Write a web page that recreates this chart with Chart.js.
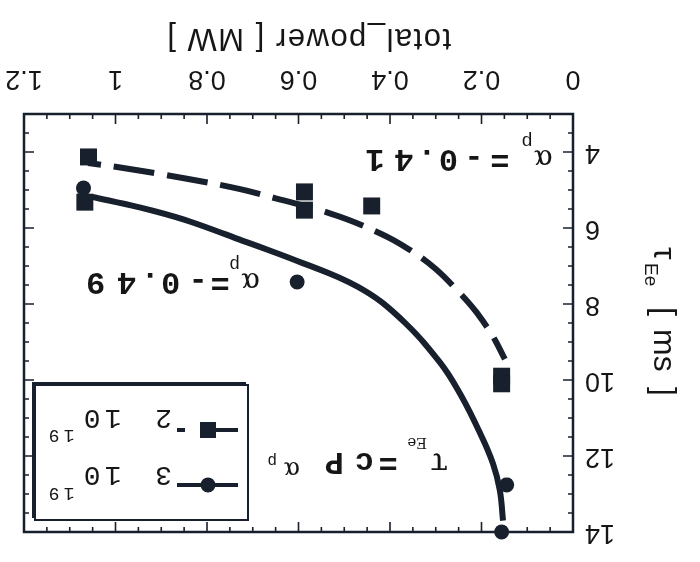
<!DOCTYPE html>
<html>
<head>
<meta charset="utf-8">
<title>tau_Ee vs total power</title>
<script src="https://cdn.jsdelivr.net/npm/chart.js@4.4.0/dist/chart.umd.min.js"></script>
<style>
  html, body { margin: 0; padding: 0; background: #fff; overflow: hidden; }
  /* the figure is shown turned half a turn */
  #wrap { width: 700px; height: 562px; transform: rotate(180deg); }
</style>
</head>
<body>
<div id="wrap"><canvas id="chart" width="700" height="562"></canvas></div>
<script>
const xTickValues = [0, 0.2, 0.4, 0.6, 0.8, 1, 1.2];
const xTickLabels = ['0', '0.2', '0.4', '0.6', '0.8', '1', '1.2'];
const yTickValues = [4, 6, 8, 10, 12, 14];
const yTickLabels = ['4', '6', '8', '10', '12', '14'];

// measured points, n = 2e19 (squares) and n = 3e19 (circles)
const power2e19 = [1.059, 1.067, 0.587, 0.587, 0.44, 0.156, 0.156];
const tau2e19 = [4.13, 5.32, 5.05, 5.53, 5.42, 9.9, 10.1];
const power3e19 = [1.07, 0.603, 0.145, 0.156];
const tau3e19 = [4.95, 7.42, 12.76, 14.0];

// fitted curves tau = c P^alpha
const fitPower2e19 = [1.06, 1.0, 0.85, 0.73, 0.65, 0.53, 0.42, 0.36, 0.30, 0.25, 0.22, 0.197, 0.175, 0.149];
const fitTau2e19 = [4.29, 4.39, 4.69, 4.97, 5.22, 5.62, 6.15, 6.55, 7.08, 7.68, 8.08, 8.45, 8.85, 9.45];
const fitPower3e19 = [1.052, 0.95, 0.85, 0.73, 0.60, 0.47, 0.38, 0.29, 0.245, 0.205, 0.175, 0.16, 0.153];
const fitTau3e19 = [5.18, 5.45, 5.78, 6.30, 6.88, 7.55, 8.35, 9.55, 10.4, 11.35, 12.2, 12.9, 13.7];

const ink = '#17202c';
const textInk = '#161616';

const pairs = (xs, ys) => xs.map((x, i) => ({ x, y: ys[i] }));

function put(ctx, text, x, y, font, align) {
  ctx.font = font;
  ctx.textAlign = align || 'left';
  ctx.fillText(text, x, y);
}

// box with inward ticks on all four sides
const frameTicks = {
  id: 'frameTicks',
  beforeDatasetsDraw(chart) {
    const { ctx, chartArea: a } = chart;
    const xs = chart.scales.x, ys = chart.scales.y;
    ctx.save();
    ctx.strokeStyle = ink;
    ctx.lineWidth = 2.5;
    ctx.strokeRect(a.left, a.top, a.right - a.left, a.bottom - a.top);
    ctx.lineWidth = 1.6;
    ctx.beginPath();
    for (let i = 0; i <= 24; i++) {
      const px = xs.getPixelForValue(i * 0.05);
      const len = i % 4 === 0 ? 10 : 5;
      ctx.moveTo(px, a.bottom); ctx.lineTo(px, a.bottom - len);
      ctx.moveTo(px, a.top); ctx.lineTo(px, a.top + len);
    }
    for (let i = 0; i <= 22; i++) {
      const v = 3 + i * 0.5;
      const py = ys.getPixelForValue(v);
      const len = v % 2 === 0 ? 10 : 5;
      ctx.moveTo(a.left, py); ctx.lineTo(a.left + len, py);
      ctx.moveTo(a.right, py); ctx.lineTo(a.right - len, py);
    }
    ctx.stroke();
    ctx.restore();
  }
};

const textLayer = {
  id: 'textLayer',
  afterDraw(chart) {
    const { ctx, chartArea: a } = chart;
    const xs = chart.scales.x, ys = chart.scales.y;
    const mono = '"Liberation Mono", monospace';
    const serif = '"DejaVu Serif", serif';
    const sans = '"Liberation Sans", Arial, sans-serif';
    ctx.save();
    ctx.fillStyle = textInk;
    ctx.textBaseline = 'alphabetic';

    // axis titles
    ctx.textAlign = 'center';
    ctx.font = '31px ' + sans;
    if ('letterSpacing' in ctx) ctx.letterSpacing = '1.5px';
    ctx.fillText('total_power [ MW ]', (a.left + a.right) / 2 - 10, a.bottom + 85);
    if ('letterSpacing' in ctx) ctx.letterSpacing = '0px';

    ctx.save();
    ctx.translate(a.left - 81, a.top + 285);
    ctx.rotate(-Math.PI / 2);
    put(ctx, 'τ', 0, 0, '32px ' + sans);
    put(ctx, 'Ee', 16, 9, '19px ' + sans);
    put(ctx, '[', 60, 0, '32px ' + sans);
    put(ctx, 'ms', 82, 0, '32px ' + sans);
    put(ctx, ']', 140, 0, '32px ' + sans);
    ctx.restore();

    // slope labels
    let ax = xs.getPixelForValue(0.044), ay = ys.getPixelForValue(3.95);
    put(ctx, 'α', ax, ay, '28px ' + serif);
    put(ctx, 'p', ax + 20, ay + 14, '19px ' + mono);
    '=-0.41'.split('').forEach((ch, i) => {
      put(ctx, ch, ax + [53, 79, 104.5, 126, 149, 178][i], ay, 'bold 32px ' + mono, 'center');
    });

    ax = xs.getPixelForValue(0.684); ay = ys.getPixelForValue(7.18);
    put(ctx, 'α', ax, ay, '28px ' + serif);
    put(ctx, 'p', ax + 20, ay + 14, '18px ' + mono);
    '=-0.49'.split('').forEach((ch, i) => {
      put(ctx, ch, ax + [40, 62, 89.5, 110, 133.5, 164.5][i], ay, 'bold 32px ' + mono, 'center');
    });

    // scaling law
    ax = xs.getPixelForValue(0.273); ay = ys.getPixelForValue(11.92);
    put(ctx, 'τ', ax, ay, '32px ' + serif);
    put(ctx, 'Ee', ax + 21, ay + 15, '15px ' + serif);
    put(ctx, '=', ax + 60, ay, 'bold 32px ' + mono, 'center');
    put(ctx, 'c', ax + 84, ay, 'bold 32px ' + mono, 'center');
    put(ctx, 'P', ax + 114, ay, 'bold 32px ' + mono, 'center');
    put(ctx, 'α', ax + 148, ay - 9, '24px ' + serif);
    put(ctx, 'p', ax + 171, ay - 3, '16px ' + mono);

    // legend box
    const bx = a.right - 224, by = a.top + 12, bw = 213, bh = 135;
    ctx.fillStyle = '#fff';
    ctx.fillRect(bx, by, bw, bh);
    ctx.strokeStyle = ink;
    ctx.lineWidth = 2;
    ctx.strokeRect(bx, by, bw, bh);
    ctx.lineWidth = 4;
    ctx.beginPath();
    ctx.moveTo(bx + 2, by + bh + 1); ctx.lineTo(bx + bw + 1, by + bh + 1); ctx.lineTo(bx + bw + 1, by + 2);
    ctx.stroke();

    const row1 = by + 35, row2 = by + 90;
    ctx.lineWidth = 4;
    ctx.beginPath();
    ctx.moveTo(bx + 10, row1); ctx.lineTo(bx + 71, row1);
    ctx.stroke();
    ctx.fillStyle = ink;
    ctx.beginPath();
    ctx.arc(bx + 40, row1, 7.5, 0, Math.PI * 2);
    ctx.fill();

    ctx.setLineDash([38, 15]);
    ctx.beginPath();
    ctx.moveTo(bx + 10, row2); ctx.lineTo(bx + 71, row2);
    ctx.stroke();
    ctx.setLineDash([]);
    ctx.fillRect(bx + 32, row2 - 8, 16, 16);

    ctx.fillStyle = textInk;
    [['3', row1 + 18, row1 - 3], ['2', row2 + 20, row2]].forEach(([n, base, sup]) => {
      put(ctx, n, bx + 84.5, base, '28px ' + mono, 'center');
      put(ctx, '1', bx + 135, base, '28px ' + mono, 'center');
      put(ctx, '0', bx + 156, base, '28px ' + mono, 'center');
      put(ctx, '1', bx + 179, sup, '18px ' + mono, 'center');
      put(ctx, '9', bx + 194, sup, '18px ' + mono, 'center');
    });
    ctx.restore();
  }
};

new Chart(document.getElementById('chart'), {
  type: 'scatter',
  data: {
    datasets: [
      {
        label: 'fit 3 10^19',
        data: pairs(fitPower3e19, fitTau3e19),
        showLine: true,
        borderColor: ink,
        borderWidth: 6,
        pointRadius: 0,
        tension: 0.4,
        clip: false
      },
      {
        label: 'fit 2 10^19',
        data: pairs(fitPower2e19, fitTau2e19),
        showLine: true,
        borderColor: ink,
        borderWidth: 6,
        borderDash: [41, 13],
        borderDashOffset: 28,
        pointRadius: 0,
        tension: 0.4,
        clip: false
      },
      {
        label: '3 10^19',
        data: pairs(power3e19, tau3e19),
        pointStyle: 'circle',
        pointRadius: 7.5,
        backgroundColor: ink,
        borderWidth: 0,
        clip: false
      },
      {
        label: '2 10^19',
        data: pairs(power2e19, tau2e19),
        pointStyle: 'rect',
        pointRadius: 12,
        backgroundColor: ink,
        borderWidth: 0,
        clip: false
      }
    ]
  },
  options: {
    responsive: false,
    animation: false,
    devicePixelRatio: 1,
    events: [],
    layout: { padding: { top: 30, right: 24, left: 0, bottom: 0 } },
    plugins: { legend: { display: false }, tooltip: { enabled: false } },
    scales: {
      x: {
        type: 'linear',
        min: 0,
        max: 1.2,
        grid: { display: false, drawTicks: false },
        border: { display: false },
        afterBuildTicks: s => { s.ticks = xTickValues.map(v => ({ value: v })); },
        afterFit: s => { s.height = 114; s.paddingLeft = 0; s.paddingRight = 0; },
        ticks: {
          padding: 19,
          color: textInk,
          font: { family: 'Liberation Sans', size: 27 },
          callback: (v, i) => xTickLabels[i]
        }
      },
      y: {
        type: 'linear',
        min: 3,
        max: 14,
        grid: { display: false, drawTicks: false },
        border: { display: false },
        afterBuildTicks: s => { s.ticks = yTickValues.map(v => ({ value: v })); },
        afterFit: s => { s.width = 127; s.paddingTop = 0; s.paddingBottom = 0; },
        ticks: {
          padding: 12,
          color: textInk,
          font: { family: 'Liberation Sans', size: 27 },
          callback: (v, i) => yTickLabels[i]
        }
      }
    }
  },
  plugins: [frameTicks, textLayer]
});
</script>
</body>
</html>
